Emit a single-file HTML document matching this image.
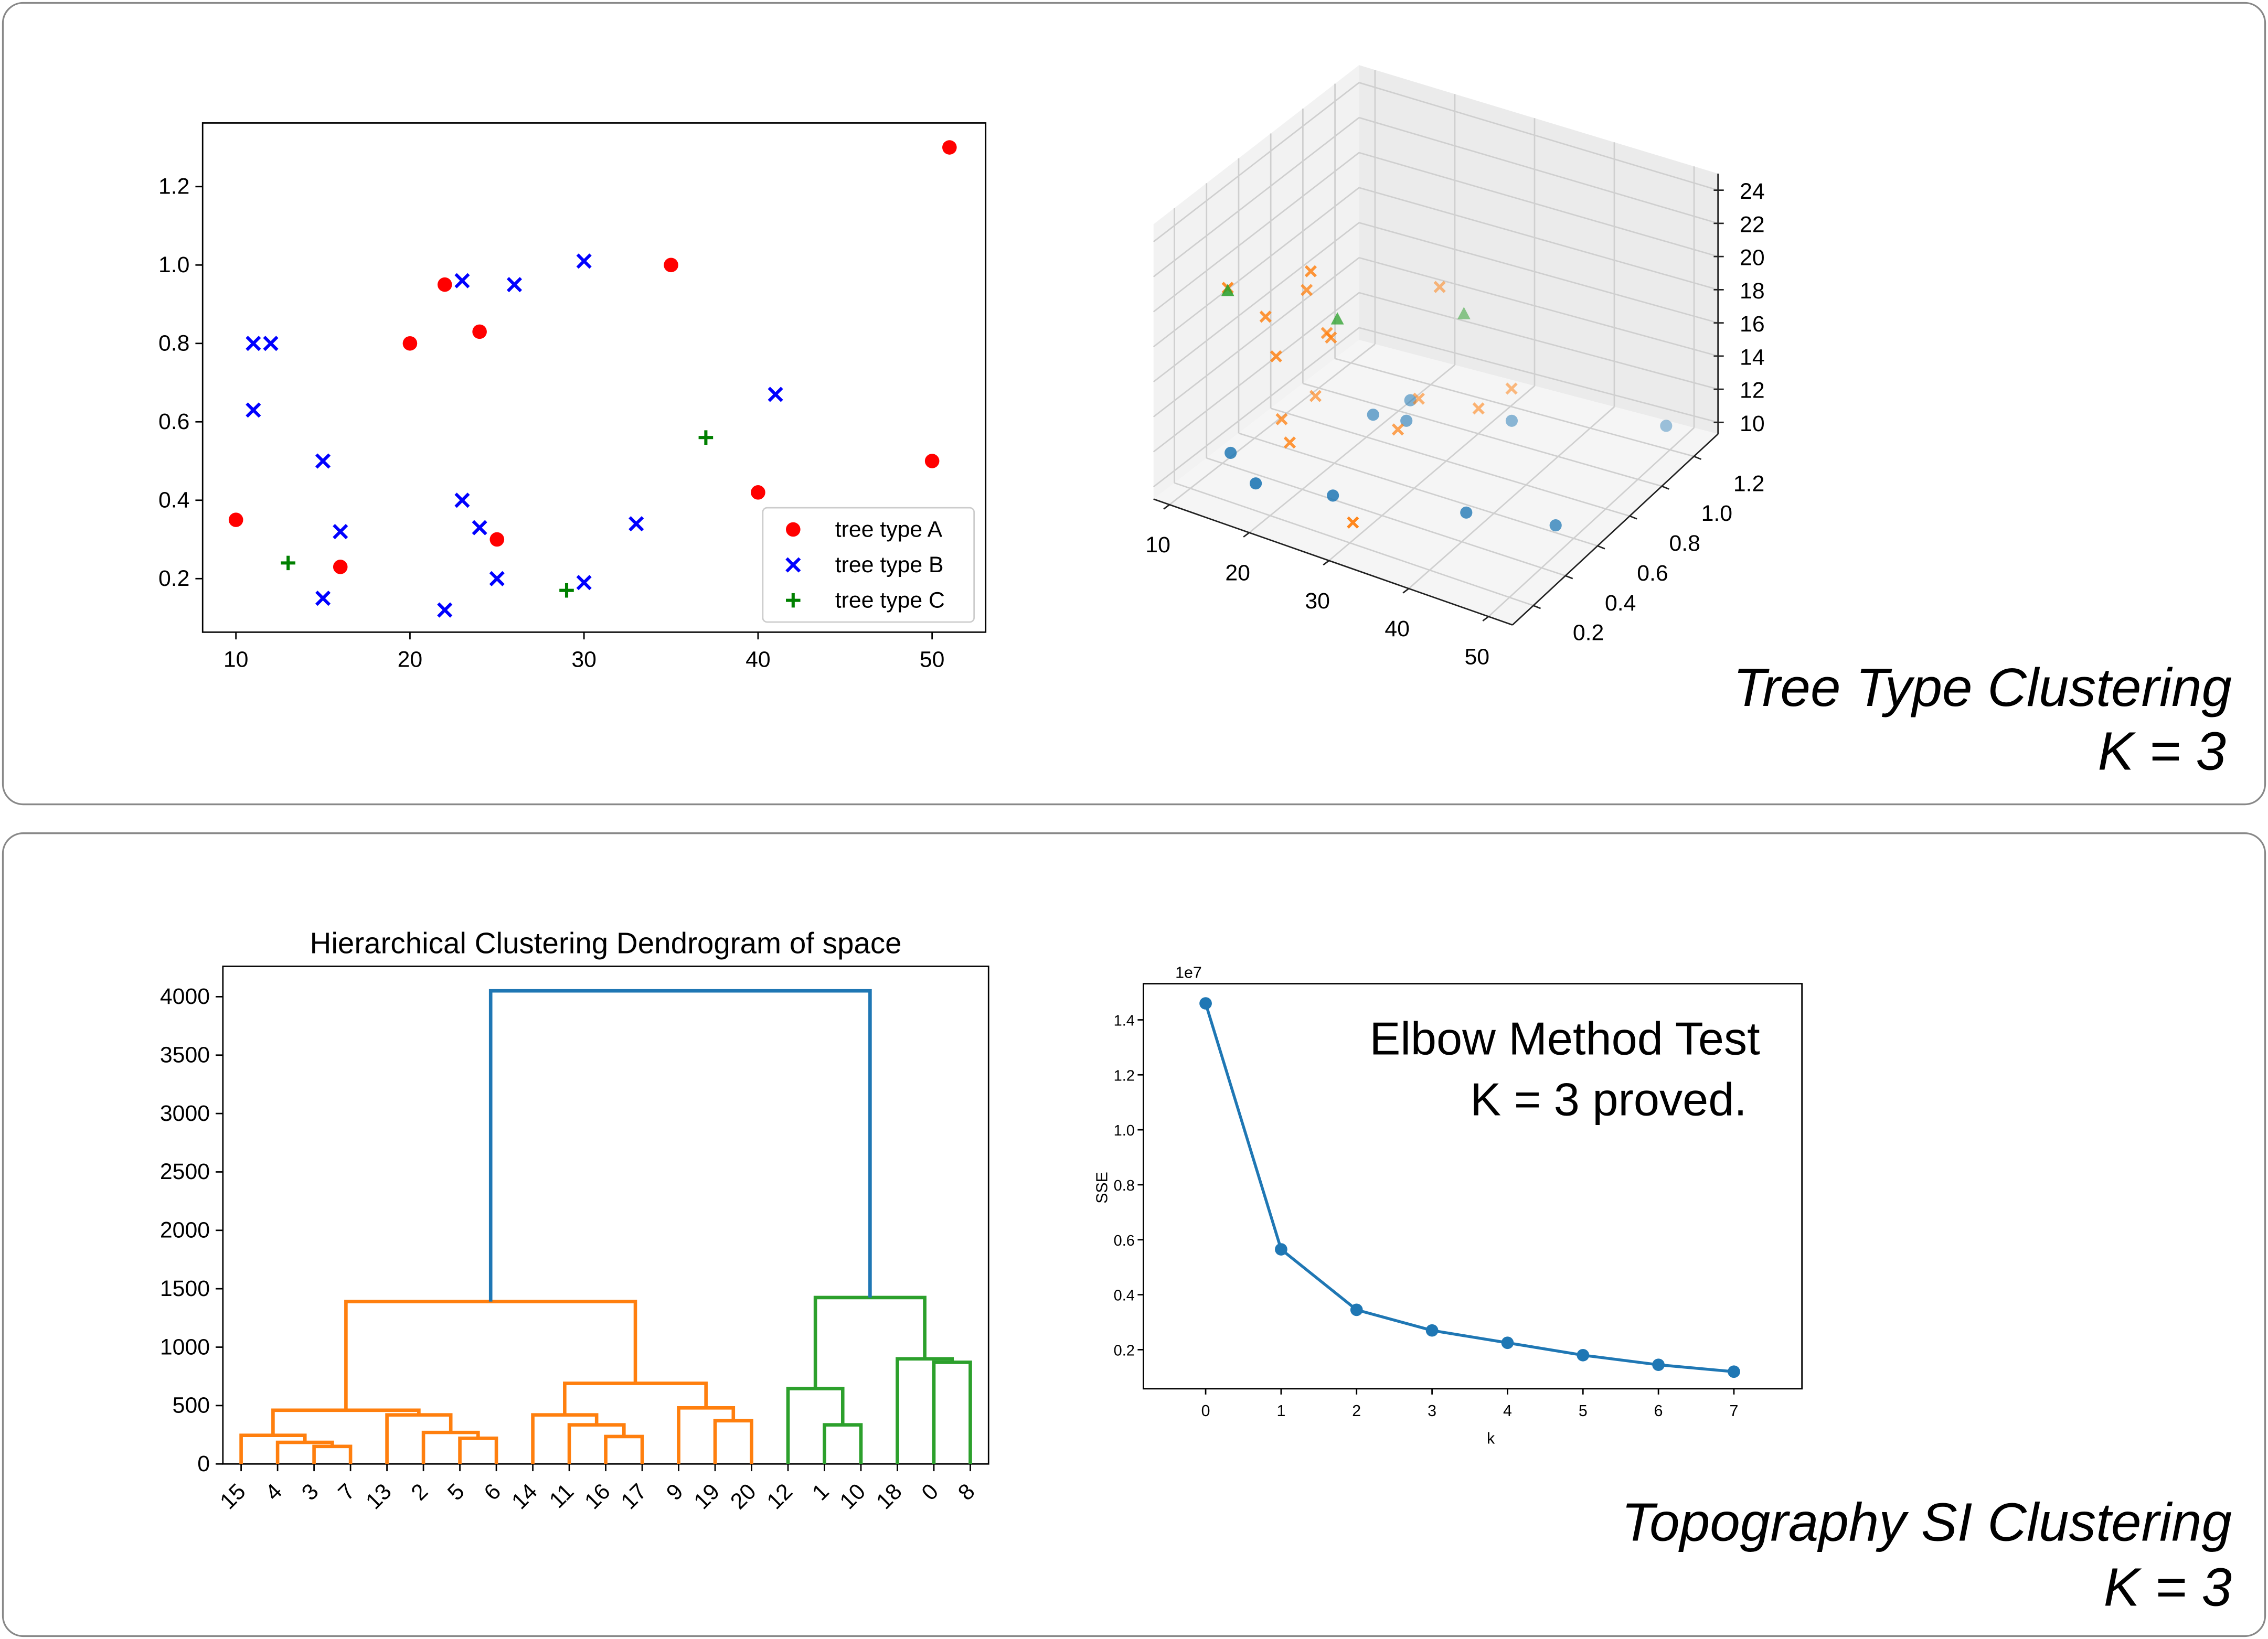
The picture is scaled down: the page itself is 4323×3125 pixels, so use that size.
<!DOCTYPE html>
<html><head><meta charset="utf-8"><style>
html,body{margin:0;padding:0;background:#fff;}
svg{display:block;font-family:"Liberation Sans","DejaVu Sans",sans-serif;}
</style></head><body>
<svg id="root" xmlns="http://www.w3.org/2000/svg" width="4323" height="3125" viewBox="0 0 1567 1133" preserveAspectRatio="none">
<rect x="2" y="2" width="1563" height="554" rx="14" fill="#fff" stroke="#888" stroke-width="1.2"/>
<rect x="2" y="576" width="1563" height="555" rx="14" fill="#fff" stroke="#888" stroke-width="1.2"/>
<text x="1542" y="488" text-anchor="end" font-size="37.5" font-style="italic">Tree Type Clustering</text>
<text x="1538" y="532" text-anchor="end" font-size="37.5" font-style="italic">K = 3</text>
<text x="1542" y="1065" text-anchor="end" font-size="37.5" font-style="italic">Topography SI Clustering</text>
<text x="1542" y="1110" text-anchor="end" font-size="37.5" font-style="italic">K = 3</text>
<g id="g2d"></g><g id="g3d"></g><g id="gden"></g><g id="gelb"></g>
</svg>
<script>
// ---------- 2D scatter data ----------
const aX=[10,16,20,22,24,25,35,40,50,51];
const aY=[0.35,0.23,0.80,0.95,0.83,0.30,1.00,0.42,0.50,1.30];
const bX=[11,12,11,15,16,15,22,23,23,24,25,26,30,30,33,41];
const bY=[0.80,0.80,0.63,0.50,0.32,0.15,0.12,0.96,0.40,0.33,0.20,0.95,1.01,0.19,0.34,0.67];
const cX=[13,29,37];
const cY=[0.24,0.17,0.56];
const sxTicks=[10,20,30,40,50];
const syTicks=[0.2,0.4,0.6,0.8,1.0,1.2];
// ---------- 3D data ----------
const p3X=[10.5,16.1,24,37.2,46.2,18.2,21.7,19.7,30.6,46, 19.6,11.8,14,16.4,18.9,19.4,15.3,12.1,13.3,17,30,25,22.2,29.6,31.2,22.3, 20.2,25.3,11.8];
const p3Y=[0.41,0.29,0.37,0.53,0.63,0.89,0.92,1.04,1.12,1.3, 0.45,0.33,0.45,0.58,0.58,0.58,0.45,0.84,0.58,0.45,0.2,0.71,0.97,0.97,1.09,1.09, 0.58,1.09,0.33];
const p3Z=[10,10,10,10,10,10,10,10,10,11, 22.9,21.4,19,20.1,17.8,17.6,16.7,10.5,11.3,11.5,10.7,11.7,11.1,11.8,12.4,17.3, 18.9,16.1,21.2];
const p3C=[0,0,0,0,0,0,0,0,0,0, 1,1,1,1,1,1,1,1,1,1,1,1,1,1,1,1, 2,2,2];
const t3X=[10,20,30,40,50];
const t3Y=[0.2,0.4,0.6,0.8,1.0,1.2];
const t3Z=[10,12,14,16,18,20,22,24];
// ---------- dendrogram data ----------
const leafLabels=["15","4","3","7","13","2","5","6","14","11","16","17","9","19","20","12","1","10","18","0","8"];
const linkX1=[25,15,5,65,55,45,13.75,105,95,85,135,125,93.75,33.75,165,155,195,185,162.5,73.44];
const linkX2=[35,30,22.5,75,70,62.5,53.75,115,110,102.5,145,140,132.5,113.125,175,170,205,200,192.5,177.5];
const linkH1=[0,0,0,0,0,0,245,0,0,0,0,0,420,460,0,0,0,0,645,1390];
const linkH2=[0,150,185,0,220,270,420,0,235,335,0,370,480,690,0,335,0,870,900,1425];
const linkTop=[150,185,245,220,270,420,460,235,335,420,370,480,690,1390,335,645,870,900,1425,4050];
const linkColor=["o","o","o","o","o","o","o","o","o","o","o","o","o","o","g","g","g","g","g","b"];
const denTicks=[0,500,1000,1500,2000,2500,3000,3500,4000];
// ---------- elbow data ----------
const elbK=[0,1,2,3,4,5,6,7];
const elbSSE=[1.46,0.565,0.345,0.27,0.225,0.18,0.145,0.12];
const elbTicks=[0.2,0.4,0.6,0.8,1.0,1.2,1.4];

const NS="http://www.w3.org/2000/svg";
function mk(parent,tag,attrs,text){const e=document.createElementNS(NS,tag);for(const k in attrs)e.setAttribute(k,attrs[k]);if(text!==undefined)e.textContent=text;parent.appendChild(e);return e;}
const COL={o:"#ff7f0e",g:"#2ca02c",b:"#1f77b4"};

// ===== 2D scatter =====
(function(){
const g=document.getElementById('g2d');
const L=140,T=85,R=681,B=437;
const sx=v=>163+(v-10)*12.025, sy=v=>400-(v-0.2)*271;
let e=mk(g,'rect',{x:L,y:T,width:R-L,height:B-T,fill:'none',stroke:'#000','stroke-width':1});


sxTicks.forEach(v=>{
 let t=mk(g,'line',{x1:sx(v),x2:sx(v),y1:B,y2:B+5,stroke:'#000'});
 
 
 let l=mk(g,'text',{x:sx(v),y:B+24,'text-anchor':'middle','font-size':15.5},String(v));
 
 
});
syTicks.forEach(v=>{
 let t=mk(g,'line',{x1:L-5,x2:L,y1:sy(v),y2:sy(v),stroke:'#000'});
 
 
 let l=mk(g,'text',{x:L-9,y:sy(v)+5,'text-anchor':'end','font-size':15.5},v.toFixed(1));
 
 
});
aX.forEach((x,i)=>{
 let c=mk(g,'circle',{cx:sx(x),cy:sy(aY[i]),r:5,fill:'#ff0000'});
 
 
});
bX.forEach((x,i)=>{
 const X=sx(x),Y=sy(bY[i]);
 let p=mk(g,'path',{d:`M${X-4.5} ${Y-4.5}L${X+4.5} ${Y+4.5}M${X-4.5} ${Y+4.5}L${X+4.5} ${Y-4.5}`,stroke:'#0000ff','stroke-width':2.2});
 
 
});
cX.forEach((x,i)=>{
 const X=sx(x),Y=sy(cY[i]);
 let p=mk(g,'path',{d:`M${X-5} ${Y}L${X+5} ${Y}M${X} ${Y-5}L${X} ${Y+5}`,stroke:'#008000','stroke-width':2.2});
 
 
});
let lg=mk(g,'rect',{x:527,y:351,width:146,height:79,rx:3,fill:'#fff','fill-opacity':0.85,stroke:'#ccc'});


const names=["tree type A","tree type B","tree type C"];
names.forEach((n,i)=>{
 const Y=366+i*24.5, X=548;
 let m;
 if(i===0) m=mk(g,'circle',{cx:X,cy:Y,r:5,fill:'#ff0000'});
 else if(i===1) m=mk(g,'path',{d:`M${X-4.5} ${Y-4.5}L${X+4.5} ${Y+4.5}M${X-4.5} ${Y+4.5}L${X+4.5} ${Y-4.5}`,stroke:'#0000ff','stroke-width':2.2});
 else m=mk(g,'path',{d:`M${X-5} ${Y}L${X+5} ${Y}M${X} ${Y-5}L${X} ${Y+5}`,stroke:'#008000','stroke-width':2.2});
 
 
 let t=mk(g,'text',{x:577,y:Y+5,'font-size':15.5},n);
 
 
});
})();

// ===== 3D scatter =====
(function(){
const g=document.getElementById('g3d');
const xmin=8,xmax=53,ymin=0.07,ymax=1.35,zmin=9.3,zmax=25;
function P(x,y,z){const u=(x-xmin)/(xmax-xmin),v=(y-ymin)/(ymax-ymin),w=(z-zmin)/(zmax-zmin);
 return [797+251*u+148*v, 345+87*u-110*v-170*w];}
function Q(x,y,z){const u=(x-xmin)/(xmax-xmin),v=(y-ymin)/(ymax-ymin),w=(z-zmin)/(zmax-zmin);
 return [797+248*u+142*v, 345+87*u-110*v-22*u*v-(180+10*(1-u))*w];}
function poly(pts,fill,name){let e=mk(g,'polygon',{points:pts.map(p=>p.join(',')).join(' '),fill:fill,stroke:'none'});
 
 }
poly([Q(xmin,ymin,zmin),Q(xmin,ymax,zmin),Q(xmin,ymax,zmax),Q(xmin,ymin,zmax)],'#f2f2f2','left-pane');
poly([Q(xmin,ymax,zmin),Q(xmax,ymax,zmin),Q(xmax,ymax,zmax),Q(xmin,ymax,zmax)],'#ebebeb','back-pane');
poly([Q(xmin,ymin,zmin),Q(xmax,ymin,zmin),Q(xmax,ymax,zmin),Q(xmin,ymax,zmin)],'#f5f5f5','floor-pane');
function ln(a,b,stroke,w,name){let e=mk(g,'line',{x1:a[0],y1:a[1],x2:b[0],y2:b[1],stroke:stroke,'stroke-width':w});
 
 }
const gc='#cfcfcf';
t3X.forEach(x=>{ln(Q(x,ymin,zmin),Q(x,ymax,zmin),gc,1,'grid-line');ln(Q(x,ymax,zmin),Q(x,ymax,zmax),gc,1,'grid-line');});
t3Y.forEach(y=>{ln(Q(xmin,y,zmin),Q(xmax,y,zmin),gc,1,'grid-line');ln(Q(xmin,y,zmin),Q(xmin,y,zmax),gc,1,'grid-line');});
t3Z.forEach(z=>{ln(Q(xmin,ymin,z),Q(xmin,ymax,z),gc,1,'grid-line');ln(Q(xmin,ymax,z),Q(xmax,ymax,z),gc,1,'grid-line');});
ln(Q(xmin,ymin,zmin),Q(xmax,ymin,zmin),'#222',1,'x-axis-3d');
ln(Q(xmax,ymin,zmin),Q(xmax,ymax,zmin),'#222',1,'y-axis-3d');
ln(Q(xmax,ymax,zmin),Q(xmax,ymax,zmax),'#222',1,'z-axis-3d');
t3X.forEach(x=>{const p=Q(x,ymin,zmin);ln(p,[p[0]-4,p[1]+3],'#222',1,'x-tick-3d');
 let t=mk(g,'text',{x:p[0]-8,y:p[1]+33,'text-anchor':'middle','font-size':15.5},String(x));
 
 });
t3Y.forEach(y=>{const p=Q(xmax,y,zmin);ln(p,[p[0]+5,p[1]+2],'#222',1,'y-tick-3d');
 let t=mk(g,'text',{x:p[0]+38,y:p[1]+24,'text-anchor':'middle','font-size':15.5},y.toFixed(1));
 
 });
t3Z.forEach(z=>{const p=Q(xmax,ymax,z);ln([p[0]-3,p[1]],[p[0]+4,p[1]],'#222',1,'z-tick-3d');
 let t=mk(g,'text',{x:p[0]+15,y:p[1]+6,'font-size':15.5},String(z));
 
 });
const cols=['#1f77b4','#ff7f0e','#2ca02c'];
p3X.forEach((x,i)=>{
 const p=P(x,p3Y[i],p3Z[i]);const v=(p3Y[i]-ymin)/(ymax-ymin);
 const op=Math.max(0.3,1-0.6*v);
 const c=cols[p3C[i]];let m;
 if(p3C[i]===0) m=mk(g,'circle',{cx:p[0],cy:p[1],r:4.2,fill:c,'fill-opacity':op});
 else if(p3C[i]===1) m=mk(g,'path',{d:`M${p[0]-3.5} ${p[1]-3.5}L${p[0]+3.5} ${p[1]+3.5}M${p[0]-3.5} ${p[1]+3.5}L${p[0]+3.5} ${p[1]-3.5}`,stroke:c,'stroke-width':2,'stroke-opacity':op});
 else m=mk(g,'polygon',{points:`${p[0]},${p[1]-5} ${p[0]-4.5},${p[1]+3.5} ${p[0]+4.5},${p[1]+3.5}`,fill:c,'fill-opacity':op});
 
 
});
})();

// ===== Dendrogram =====
(function(){
const g=document.getElementById('gden');
const L=154,T=668,R=683,B=1012;
const sx=v=>L+v*(R-L)/210, sy=v=>B-v*0.08075;
let e=mk(g,'rect',{x:L,y:T,width:R-L,height:B-T,fill:'none',stroke:'#000'});


let ti=mk(g,'text',{x:(L+R)/2,y:659,'text-anchor':'middle','font-size':20.5},'Hierarchical Clustering Dendrogram of space');


denTicks.forEach(v=>{
 let t=mk(g,'line',{x1:L-5,x2:L,y1:sy(v),y2:sy(v),stroke:'#000'});
 
 
 let l=mk(g,'text',{x:L-9,y:sy(v)+5,'text-anchor':'end','font-size':15.5},String(v));
 
 
});
leafLabels.forEach((lab,i)=>{
 const X=sx(5+10*i);
 let t=mk(g,'line',{x1:X,x2:X,y1:B,y2:B+5,stroke:'#000'});
 
 
 let l=mk(g,'text',{x:X+4,y:B+20,'text-anchor':'end','font-size':15.5,transform:`rotate(-45 ${X+4} ${B+20})`},lab);
 
 
});
linkX1.forEach((x1,i)=>{
 const x2=linkX2[i];
 let p=mk(g,'path',{d:`M${sx(x1)} ${sy(linkH1[i])}V${sy(linkTop[i])}H${sx(x2)}V${sy(linkH2[i])}`,fill:'none',stroke:COL[linkColor[i]],'stroke-width':2.4});
 
 
});
})();

// ===== Elbow =====
(function(){
const g=document.getElementById('gelb');
const L=790,T=680,R=1245,B=960;
const sx=v=>833+v*52.14, sy=v=>933-(v-0.2)*190;
let e=mk(g,'rect',{x:L,y:T,width:R-L,height:B-T,fill:'none',stroke:'#000'});


elbK.forEach(v=>{
 let t=mk(g,'line',{x1:sx(v),x2:sx(v),y1:B,y2:B+4,stroke:'#000'});
 
 
 let l=mk(g,'text',{x:sx(v),y:B+19,'text-anchor':'middle','font-size':11},String(v));
 
 
});
elbTicks.forEach(v=>{
 let t=mk(g,'line',{x1:L-4,x2:L,y1:sy(v),y2:sy(v),stroke:'#000'});
 
 
 let l=mk(g,'text',{x:L-6,y:sy(v)+4,'text-anchor':'end','font-size':10.5},v.toFixed(1));
 
 
});
let ex=mk(g,'text',{x:812,y:676,'font-size':11},'1e7');


let yl=mk(g,'text',{x:765,y:821,'text-anchor':'middle','font-size':11,transform:'rotate(-90 765 821)'},'SSE');


let xl=mk(g,'text',{x:1030,y:998,'text-anchor':'middle','font-size':11},'k');


let line=mk(g,'polyline',{points:elbK.map((k,i)=>sx(k)+','+sy(elbSSE[i])).join(' '),fill:'none',stroke:'#1f77b4','stroke-width':2});


elbK.forEach((k,i)=>{
 let c=mk(g,'circle',{cx:sx(k),cy:sy(elbSSE[i]),r:4.3,fill:'#1f77b4'});
 
 
});
let a=mk(g,'text',{x:1216,y:729,'text-anchor':'end','font-size':32},'Elbow Method Test');


let b=mk(g,'text',{x:1207,y:771,'text-anchor':'end','font-size':32},'K = 3 proved.');


})();
</script>
</body></html>
